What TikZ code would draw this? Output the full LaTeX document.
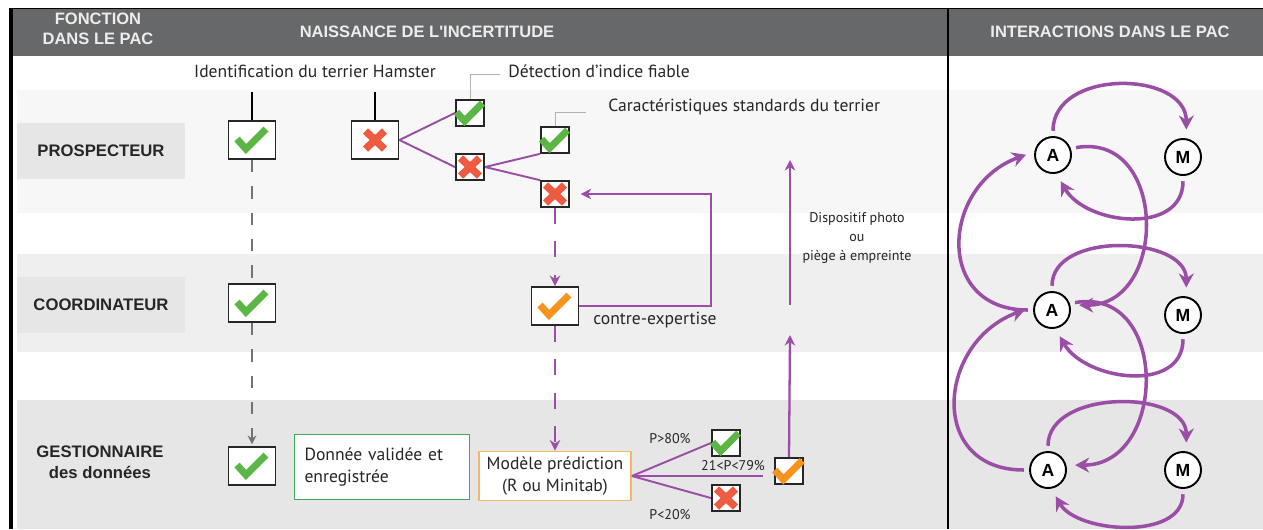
\documentclass[tikz,border=0pt]{standalone}
\usepackage{fontspec}
\setmainfont{PT Sans}
\newfontfamily\headfont{Liberation Sans}
\usepackage{tikz}
\usetikzlibrary{arrows.meta,positioning}

\definecolor{hdrgray}{HTML}{67686A}
\definecolor{bandone}{HTML}{F7F7F7}
\definecolor{bandtwo}{HTML}{EFEFEF}
\definecolor{bandthree}{HTML}{E6E6E6}
\definecolor{plum}{HTML}{9A4EA5}
\definecolor{okgreen}{HTML}{5CB646}
\definecolor{nored}{HTML}{EE5B40}
\definecolor{midorange}{HTML}{F7941E}
\definecolor{modelorange}{HTML}{F8B565}
\definecolor{savegreen}{HTML}{3DAA5E}

\begin{document}
\begin{tikzpicture}[x=0.02cm, y=0.02cm, >=Stealth,
    bigbox/.style={draw=black!85, line width=1.1pt, fill=white, minimum width=0.94cm, minimum height=0.76cm, inner sep=0pt},
    smallbox/.style={draw=black!85, line width=1pt, fill=white, minimum width=0.57cm, minimum height=0.52cm, inner sep=0pt},
    roletext/.style={inner sep=0pt, text=black!85, align=center, font=\headfont\bfseries\fontsize{9.5}{12}\selectfont},
    rolebox/.style={roletext, fill=bandthree, minimum width=3.38cm, minimum height=1.12cm},
    headtext/.style={inner sep=0pt, text=white!93!black, align=center, font=\headfont\bfseries\fontsize{9.4}{11.3}\selectfont},
    bodytext/.style={inner sep=0pt, text=black!85, font=\fontsize{10}{12.5}\selectfont},
    smalltext/.style={inner sep=0pt, text=black!85, align=center, font=\fontsize{8}{10.8}\selectfont},
    actor/.style={circle, draw=black, line width=1.1pt, fill=white, minimum size=0.72cm, inner sep=0pt, font=\headfont\bfseries\fontsize{10}{12}\selectfont},
    branch/.style={draw=plum, line width=1.1pt},
    flow/.style={draw=plum, line width=1.3pt, -{Stealth[length=6pt,width=6pt]}},
    flowdash/.style={flow, dash pattern=on 9pt off 10pt},
    greydash/.style={draw=black!55, line width=0.9pt, dash pattern=on 7pt off 8pt},
    leader/.style={draw=black!30, line width=0.5pt},
    relay/.style={draw=plum, line width=2pt, -{Stealth[length=8pt,width=8.5pt]}, shorten <=3pt, shorten >=5pt},
    okmark/.pic={\draw[line width=4pt, line join=miter] (-15,1) -- (-6,-9) -- (14,11);},
    nomark/.pic={\draw[line width=4.2pt] (-9.5,9) -- (9.5,-9) (-9.5,-9) -- (9.5,9);}]

    \useasboundingbox (0,0) rectangle (1263,-529);
    \fill[white] (0,0) rectangle (1263,-529);
    \fill[bandone] (17,-90) rectangle (1263,-213);
    \fill[bandtwo] (17,-254) rectangle (1263,-352);
    \fill[bandthree] (17,-400) rectangle (1263,-529);
    \fill[hdrgray] (10,-9) rectangle (1263,-56);
    \draw[line width=0.8pt] (10,-8.5) -- (1263,-8.5);
    \draw[line width=2pt] (11,-8) -- (11,-529);
    \draw[line width=1.6pt] (948,-8) -- (948,-529);

    \node[headtext] (hfonction) at (98,-29) {FONCTION\\DANS LE PAC};
    \node[headtext] (hnaissance) at (427,-32) {NAISSANCE DE L'INCERTITUDE};
    \node[headtext] (hinteract) at (1110,-32) {INTERACTIONS DANS LE PAC};

    \node[rolebox] (prosp) at (101,-151) {PROSPECTEUR};
    \node[rolebox] (coord) at (101,-305) {COORDINATEUR};
    \node[roletext] (gest) at (100,-462) {GESTIONNAIRE\\des données};

    \node[bodytext] (idlabel) at (315,-71) {Identification du terrier Hamster};
    \coordinate (idstemA) at (252,-92);
    \coordinate (idstemB) at (375,-92);
    \node[bigbox] (idprosp) at (252,-140) {};
    \node[bigbox] (idcoord) at (252,-303) {};
    \node[bigbox] (idgest) at (252,-466) {};
    \draw[line width=0.9pt] (idstemA) -- (idprosp);
    \path[greydash] (idprosp) -- (idcoord);
    \path[greydash, -{Stealth[length=5pt,width=5pt]}, shorten >=1pt] (idcoord) -- (idgest);

    \node[bigbox] (hamno) at (375,-140) {};
    \node[smallbox] (detok) at (470,-113) {};
    \node[smallbox] (detno) at (470,-167) {};
    \node[smallbox] (carok) at (555,-140) {};
    \node[smallbox] (carno) at (555,-194) {};
    \draw[line width=0.9pt] (idstemB) -- (hamno);
    \path[branch] (hamno.east) -- (detok.west);
    \path[branch] (hamno.east) -- (detno.west);
    \path[branch] (detno.east) -- (carok.south west);
    \path[branch] (detno.east) -- (carno.north west);

    \coordinate (detlead) at (500,-74);
    \coordinate (carlead) at (586,-112);
    \path[leader] (detok.north) |- (detlead);
    \path[leader] (carok.north) |- (carlead);
    \node[bodytext, right=0.16cm of detlead, yshift=0.05cm, anchor=west] (detlabel) {Détection d’indice fiable};
    \node[bodytext, right=0.44cm of carlead, yshift=0.1cm, anchor=west] (carlabel) {Caractéristiques standards du terrier};

    \node[bigbox] (expcheck) at (555,-306) {};
    \coordinate (expturn) at (711,-194);
    \path[flowdash] (carno) -- (expcheck);
    \path[flow, shorten >=6pt] (expcheck.east) -| (expturn) -- (carno.east);
    \node[bodytext, anchor=west] (explabel) at (593,-320) {contre-expertise};

    \node[bodytext, draw=savegreen, line width=1.1pt, fill=white, minimum width=3.5cm, minimum height=1.3cm,
        text width=3.1cm, inner xsep=0.2cm, align=left] (saved) at (382,-467) {Donnée validée et\\enregistrée};
    \node[bodytext, draw=modelorange, line width=1.1pt, fill=white, minimum width=3.04cm, minimum height=0.98cm,
        align=center] (model) at (555,-476) {Modèle prédiction\\(R ou Minitab)};
    \path[flowdash] (expcheck) -- (model);

    \node[smallbox] (highok) at (726,-443) {};
    \node[smallbox] (lowno) at (726,-498) {};
    \node[smallbox] (midok) at (789,-471) {};
    \path[branch] (model.east) -- (highok.west);
    \path[branch] (model.east) -- (lowno.west);
    \path[branch, shorten >=6pt] (model.east) -- (model.east -| midok.west);
    \node[smalltext] (pabove) at (670,-439) {P>80\%};
    \node[smalltext] (pmid) at (733,-466) {21<P<79\%};
    \node[smalltext] (pbelow) at (670,-515) {P<20\%};

    \coordinate (phototipA) at (790,-335);
    \coordinate (photobase) at (790,-305);
    \coordinate (phototipB) at (790,-160);
    \path[flow] (midok.north) -- (phototipA);
    \path[flow] (photobase) -- (phototipB);
    \node[smalltext] (photolabel) at (857,-238) {Dispositif photo\\ou\\piège à empreinte};

    \pic[color=okgreen] at (idprosp) {okmark};
    \pic[color=okgreen] at (idcoord) {okmark};
    \pic[color=okgreen] at (idgest) {okmark};
    \pic[color=okgreen, scale=0.9] at (detok) {okmark};
    \pic[color=okgreen, scale=0.9] at (carok) {okmark};
    \pic[color=okgreen, scale=0.9] at (highok) {okmark};
    \pic[color=nored] at (hamno) {nomark};
    \pic[color=nored] at (detno) {nomark};
    \pic[color=nored] at (carno) {nomark};
    \pic[color=nored] at (lowno) {nomark};
    \pic[color=midorange] at (expcheck) {okmark};
    \pic[color=midorange, scale=0.95] at (midok) {okmark};

    \node[actor] (aprosp) at (1053,-155) {A};
    \node[actor] (mprosp) at (1183,-157) {M};
    \node[actor] (acoord) at (1052,-310) {A};
    \node[actor] (mcoord) at (1183,-315) {M};
    \node[actor] (agest) at (1048,-470) {A};
    \node[actor] (mgest) at (1183,-470) {M};

    \path[relay] (aprosp.north) to[out=90, in=90, looseness=1.3] (mprosp.80);
    \path[relay] (mprosp.south) to[out=-90, in=-60, looseness=1.2] (aprosp.-80);
    \path[relay] (aprosp.20) to[out=10, in=0, looseness=1.6] (acoord.15);
    \path[relay] (acoord.west) to[out=180, in=200, looseness=1.6] (aprosp.170);
    \path[relay] (acoord.north) to[out=90, in=90, looseness=1.15] (mcoord.80);
    \path[relay] (mcoord.south) to[out=-90, in=-60, looseness=1.2] (acoord.-80);
    \path[relay] (acoord.20) to[out=10, in=0, looseness=1.6] (agest.15);
    \path[relay] (agest.west) to[out=180, in=200, looseness=1.6] (acoord.170);
    \path[relay] (agest.north) to[out=90, in=90, looseness=1.15] (mgest.80);
    \path[relay] (mgest.south) to[out=-90, in=-60, looseness=1.0] (agest.-80);
\end{tikzpicture}
\end{document}
